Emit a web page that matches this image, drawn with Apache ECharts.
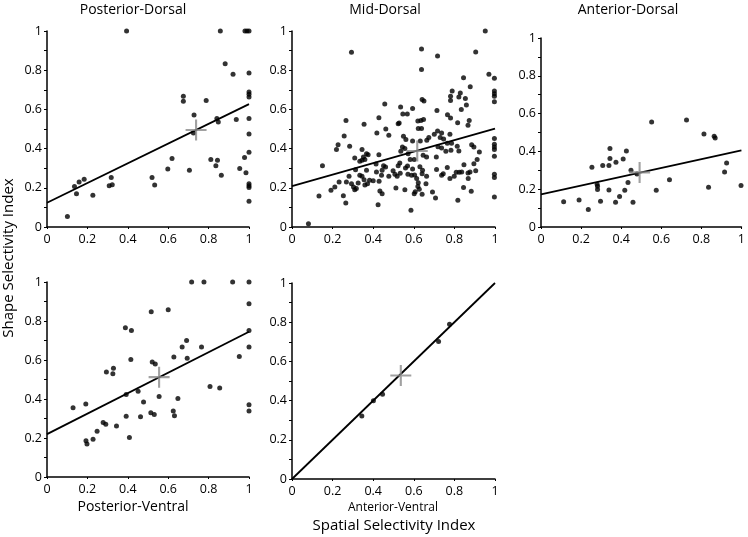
<!DOCTYPE html>
<html>
<head>
<meta charset="utf-8">
<script src="https://cdn.jsdelivr.net/npm/echarts@6/dist/echarts.min.js"></script>
<style>
html,body{margin:0;padding:0;background:#fff;}
#chart{width:748px;height:537px;}
</style>
</head>
<body>
<div id="chart"></div>
<script>
// ---------- data ----------
const panelTitles = ['Posterior-Dorsal', 'Mid-Dorsal', 'Anterior-Dorsal', 'Posterior-Ventral', 'Anterior-Ventral'];
const xTickLabels = ['0', '0.2', '0.4', '0.6', '0.8', '1'];
const yTickLabels = ['0', '0.2', '0.4', '0.6', '0.8', '1'];

const posteriorDorsal = [
  [0.394,1.0],[0.858,1.0],[0.98,1.0],[0.99,1.0],[1.0,1.0],[0.882,0.833],[0.921,0.779],[1.0,0.786],
  [1.0,0.689],[1.0,0.677],[1.0,0.663],[0.675,0.667],[0.675,0.641],[0.788,0.646],[0.728,0.571],
  [0.841,0.553],[0.848,0.536],[0.937,0.548],[1.0,0.554],[0.725,0.480],[1.0,0.474],[1.0,0.381],
  [0.978,0.355],[0.619,0.350],[0.598,0.296],[0.705,0.289],[0.811,0.344],[0.844,0.340],[0.836,0.313],
  [0.863,0.264],[0.954,0.298],[0.985,0.277],[1.0,0.221],[1.0,0.211],[1.0,0.201],[1.0,0.131],
  [0.520,0.252],[0.533,0.214],[0.318,0.253],[0.308,0.211],[0.323,0.216],[0.227,0.162],[0.184,0.243],
  [0.159,0.230],[0.136,0.207],[0.146,0.170],[0.101,0.053]
];
const midDorsal = [
  [0.952,1.0],[0.638,0.908],[0.293,0.891],[0.905,0.893],[0.717,0.872],[0.638,0.804],[0.970,0.779],
  [0.997,0.759],[0.845,0.762],[0.878,0.716],[0.997,0.694],[0.997,0.680],[0.997,0.667],[0.997,0.639],
  [0.789,0.694],[0.829,0.684],[0.781,0.667],[0.822,0.663],[0.854,0.655],[0.781,0.646],[0.641,0.650],
  [0.650,0.643],[0.457,0.628],[0.859,0.622],[0.714,0.594],[0.834,0.600],[0.535,0.612],[0.594,0.605],
  [0.546,0.577],[0.568,0.577],[0.428,0.558],[0.266,0.544],[0.766,0.573],[0.781,0.556],[0.873,0.544],
  [0.816,0.532],[0.867,0.519],[0.620,0.541],[0.635,0.544],[0.648,0.549],[0.523,0.527],[0.528,0.531],
  [0.355,0.524],[0.622,0.502],[0.638,0.502],[0.462,0.500],[0.701,0.473],[0.418,0.480],[0.477,0.468],
  [0.257,0.464],[0.717,0.490],[0.737,0.480],[0.778,0.473],[0.730,0.456],[0.674,0.456],[0.664,0.442],
  [0.747,0.449],[0.549,0.463],[0.561,0.446],[0.594,0.439],[0.632,0.439],[0.765,0.427],[0.719,0.410],
  [0.737,0.403],[0.786,0.427],[0.814,0.412],[0.822,0.388],[0.783,0.391],[0.758,0.386],[0.885,0.420],
  [0.896,0.408],[0.923,0.383],[0.997,0.451],[0.997,0.422],[0.997,0.408],[0.997,0.395],[0.997,0.361],
  [0.227,0.420],[0.219,0.395],[0.284,0.412],[0.309,0.352],[0.345,0.395],[0.367,0.374],[0.375,0.369],
  [0.352,0.357],[0.359,0.344],[0.334,0.335],[0.345,0.340],[0.428,0.369],[0.451,0.313],[0.444,0.289],
  [0.441,0.264],[0.414,0.321],[0.544,0.408],[0.536,0.386],[0.556,0.400],[0.572,0.374],[0.582,0.345],
  [0.531,0.327],[0.523,0.313],[0.569,0.311],[0.559,0.301],[0.594,0.296],[0.630,0.308],[0.646,0.366],
  [0.663,0.357],[0.602,0.344],[0.711,0.357],[0.643,0.289],[0.641,0.272],[0.663,0.259],[0.604,0.265],
  [0.614,0.247],[0.622,0.226],[0.620,0.207],[0.627,0.192],[0.607,0.180],[0.602,0.170],[0.589,0.264],
  [0.571,0.269],[0.556,0.190],[0.512,0.199],[0.498,0.287],[0.507,0.269],[0.518,0.259],[0.533,0.274],
  [0.660,0.221],[0.692,0.179],[0.641,0.167],[0.707,0.148],[0.712,0.293],[0.745,0.272],[0.737,0.264],
  [0.765,0.303],[0.778,0.247],[0.799,0.259],[0.809,0.279],[0.836,0.281],[0.824,0.279],[0.847,0.318],
  [0.867,0.276],[0.877,0.281],[0.896,0.323],[0.905,0.287],[0.912,0.344],[0.817,0.136],[0.845,0.201],
  [0.868,0.247],[0.883,0.182],[0.997,0.269],[0.997,0.252],[0.997,0.153],[0.133,0.158],[0.150,0.313],
  [0.192,0.187],[0.211,0.204],[0.232,0.230],[0.253,0.160],[0.265,0.122],[0.268,0.230],[0.281,0.259],
  [0.293,0.221],[0.303,0.204],[0.309,0.190],[0.317,0.196],[0.326,0.224],[0.334,0.264],[0.345,0.259],
  [0.355,0.241],[0.359,0.214],[0.372,0.221],[0.382,0.238],[0.400,0.236],[0.424,0.114],[0.429,0.233],
  [0.433,0.184],[0.444,0.170],[0.477,0.259],[0.461,0.306],[0.586,0.085],[0.081,0.017],[0.416,0.281],
  [0.367,0.289],[0.313,0.292]
];
const anteriorDorsal = [
  [0.113,0.134],[0.190,0.143],[0.236,0.092],[0.254,0.316],[0.280,0.226],[0.282,0.215],[0.282,0.198],
  [0.297,0.136],[0.308,0.325],[0.339,0.325],[0.339,0.196],[0.344,0.415],[0.344,0.363],[0.374,0.342],
  [0.372,0.131],[0.392,0.162],[0.410,0.360],[0.418,0.194],[0.426,0.402],[0.434,0.236],[0.449,0.300],
  [0.459,0.131],[0.479,0.280],[0.552,0.556],[0.575,0.194],[0.641,0.250],[0.726,0.566],[0.813,0.492],
  [0.864,0.480],[0.869,0.471],[0.926,0.339],[0.916,0.291],[0.836,0.210],[0.998,0.220]
];
const posteriorVentral = [
  [0.716,1.0],[0.777,1.0],[0.919,1.0],[1.0,1.0],[1.0,0.889],[0.516,0.848],[0.600,0.858],[0.388,0.766],
  [0.418,0.751],[1.0,0.751],[0.691,0.700],[0.669,0.667],[0.765,0.667],[1.0,0.667],[0.628,0.616],
  [0.694,0.609],[0.952,0.618],[0.415,0.602],[0.521,0.590],[0.536,0.580],[0.329,0.558],[0.294,0.538],
  [0.326,0.529],[0.807,0.464],[0.855,0.457],[0.392,0.423],[0.451,0.440],[0.555,0.413],[0.648,0.403],
  [0.478,0.384],[0.129,0.355],[0.192,0.374],[1.0,0.370],[1.0,0.338],[0.625,0.338],[0.631,0.314],
  [0.514,0.329],[0.531,0.321],[0.463,0.309],[0.392,0.311],[0.278,0.280],[0.291,0.271],[0.344,0.261],
  [0.248,0.234],[0.228,0.193],[0.193,0.186],[0.198,0.169],[0.408,0.203]
];
const anteriorVentral = [
  [0.344,0.322],[0.401,0.399],[0.446,0.433],[0.722,0.702],[0.776,0.790]
];

// regression line endpoints [x, y] at x = 0 and x = 1
const fitLines = [
  [[0, 0.124], [1, 0.627]],
  [[0, 0.209], [1, 0.502]],
  [[0, 0.172], [1, 0.405]],
  [[0, 0.220], [1, 0.745]],
  [[0, 0.0], [1, 1.0]]
];
// mean markers (gray crosses)
const meanPoints = [
  [0.738, 0.495],
  [0.617, 0.388],
  [0.492, 0.289],
  [0.555, 0.512],
  [0.536, 0.528]
];
const panelData = [posteriorDorsal, midDorsal, anteriorDorsal, posteriorVentral, anteriorVentral];

// ---------- layout ----------
const grids = [
  {left: 47, top: 31, width: 202, height: 196},
  {left: 292, top: 31, width: 203, height: 196},
  {left: 541, top: 38, width: 203, height: 189},
  {left: 47, top: 282, width: 202, height: 195},
  {left: 292, top: 283, width: 203, height: 196}
];

const FONT = '"Open Sans", "Noto Sans", sans-serif';
const crossPath = 'path://M9,0H11V9H20V11H11V20H9V11H0V9H9Z';

const xAxes = [], yAxes = [], series = [];
grids.forEach((g, i) => {
  xAxes.push({
    type: 'value', gridIndex: i, min: 0, max: 1, interval: 0.2,
    axisLine: {show: true, onZero: false, lineStyle: {color: '#000', width: 1.5}},
    axisTick: {show: true, length: 2, lineStyle: {color: '#000'}},
    splitLine: {show: false},
    axisLabel: {color: '#000', fontSize: 12.5, fontFamily: FONT, margin: 6,
      formatter: v => xTickLabels[Math.round(v / 0.2)]}
  });
  yAxes.push({
    type: 'value', gridIndex: i, min: 0, max: 1, interval: 0.2,
    axisLine: {show: true, onZero: false, lineStyle: {color: '#000', width: 1.5}},
    axisTick: {show: true, length: 3, lineStyle: {color: '#000'}},
    minorTick: {show: true, splitNumber: 2, length: 3, lineStyle: {color: '#000'}},
    splitLine: {show: false},
    axisLabel: {color: '#000', fontSize: 12.5, fontFamily: FONT, margin: 5,
      formatter: v => yTickLabels[Math.round(v / 0.2)]}
  });
  series.push({
    type: 'scatter', xAxisIndex: i, yAxisIndex: i, data: panelData[i],
    symbolSize: 5, itemStyle: {color: '#000'}, clip: false, silent: true, z: 2
  });
  series.push({
    type: 'line', xAxisIndex: i, yAxisIndex: i, data: fitLines[i],
    symbol: 'none', lineStyle: {color: '#000', width: 1.8}, silent: true, z: 3
  });
  series.push({
    type: 'scatter', xAxisIndex: i, yAxisIndex: i, data: [meanPoints[i]],
    symbol: crossPath, symbolSize: 21, itemStyle: {color: '#8a8a8a'}, clip: false, silent: true, z: 4
  });
});

function label(text, x, y, size, rot) {
  return {
    type: 'text', x: x, y: y, rotation: rot || 0,
    style: {text: text, textAlign: 'center', textVerticalAlign: 'middle',
      font: size + 'px ' + FONT, fill: '#000'}
  };
}
const texts = [
  label(panelTitles[0], 133, 10, 14),
  label(panelTitles[1], 385, 10, 14),
  label(panelTitles[2], 628, 10, 14),
  label(panelTitles[3], 133, 507, 14),
  label(panelTitles[4], 393, 508, 12),
  label('Spatial Selectivity Index', 394, 526, 15),
  label('Shape Selectivity Index', 9, 258, 15, Math.PI / 2)
];

const chart = echarts.init(document.getElementById('chart'), null, {renderer: 'canvas'});
chart.setOption({
  animation: false,
  backgroundColor: '#fff',
  grid: grids,
  xAxis: xAxes,
  yAxis: yAxes,
  series: series,
  graphic: texts
});
</script>
</body>
</html>
